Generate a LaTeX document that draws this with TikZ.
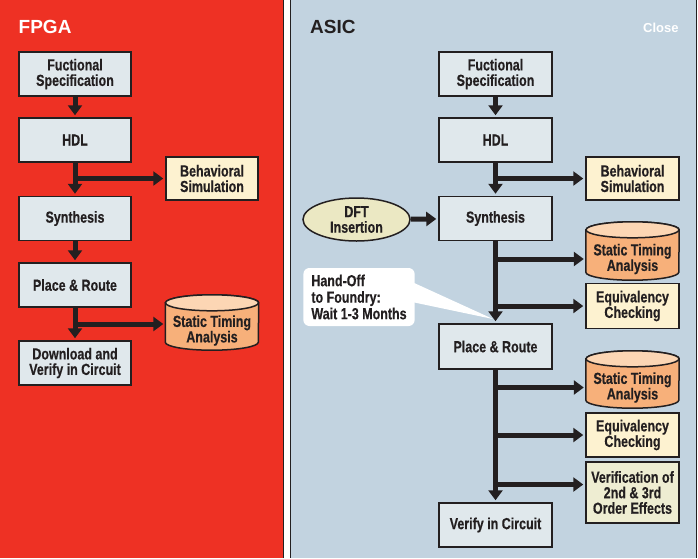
\documentclass[tikz,border=0pt]{standalone}
\usepackage{fontspec}
\setmainfont{Liberation Sans}[FakeStretch=0.78, FakeBold=0.4]
\newfontfamily\titlefont{Liberation Sans}
\usepackage{tikz}
\usepackage{xcolor}
\definecolor{fpgared}{RGB}{238,49,36}
\definecolor{asicblue}{RGB}{194,211,224}
\definecolor{ink}{RGB}{35,31,32}
\definecolor{boxgray}{RGB}{224,232,236}
\definecolor{cream}{RGB}{253,242,208}
\definecolor{drumorange}{RGB}{247,176,122}
\definecolor{drumpeach}{RGB}{252,214,180}
\definecolor{dftolive}{RGB}{235,232,195}
\definecolor{verolive}{RGB}{238,237,210}
\usetikzlibrary{shapes.geometric}
\usetikzlibrary{arrows.meta}
\usetikzlibrary{backgrounds}

% cylinder drawn behind a text node
\newcommand{\drum}[1]{%
  \filldraw[drumside] ([yshift=8pt]#1.north west) -- ([yshift=8pt]#1.south west)
    arc[start angle=180, end angle=360, x radius=46.5pt, y radius=8pt]
    -- ([yshift=8pt]#1.north east)
    arc[start angle=0, end angle=180, x radius=46.5pt, y radius=8pt] -- cycle;
  \filldraw[drumtop] ([yshift=8pt]#1.north) ellipse [x radius=46.5pt, y radius=8pt];
}

\begin{document}
\begin{tikzpicture}[x=1pt, y=1pt]
\tikzstyle{stage} = [
  shape=rectangle,
  draw = ink,
  line width = 1.5pt,
  fill = boxgray,
  minimum width = 113pt,
  minimum height = 44pt,
  inner sep = 1pt,
  align = center,
  text = ink,
  font = \bfseries\fontsize{16}{15.5}\selectfont
]
\tikzstyle{check} = [
  stage,
  fill = cream,
  minimum width = 93pt,
  minimum height = 44pt
]
\tikzstyle{drumtext} = [
  shape=rectangle,
  minimum width = 93pt,
  inner sep = 1pt,
  align = center,
  text = ink,
  font = \bfseries\fontsize{16}{15.5}\selectfont
]
\tikzstyle{drumside} = [fill = drumorange, draw = ink, line width = 1.5pt]
\tikzstyle{drumtop} = [fill = drumpeach, draw = ink, line width = 1.5pt]
\tikzstyle{flow} = [
  draw = ink,
  line width = 5pt,
  shorten > = 2pt,
  -{Triangle[length=10pt, width=14pt]}
]
\tikzstyle{title} = [anchor=base west, inner sep=0pt]

\useasboundingbox (0,0) rectangle (698,-558);

\begin{scope}[on background layer]
\fill[white] (0,0) rectangle (698,-558);
\fill[fpgared] (0,0) rectangle (283,-558);
\fill[asicblue] (290,0) rectangle (696,-558);
\draw[ink, line width=1.5pt] (283.5,0) -- (283.5,-558);
\draw[ink, line width=1.5pt] (290.5,0) -- (290.5,-558);
\draw[ink, line width=1.5pt] (696.5,0) -- (696.5,-558);
\end{scope}

% titles
\node[title, text=white] (fpgatitle) at (18.5,-33) {\titlefont\bfseries\fontsize{19}{19}\selectfont FPGA};
\node[title, text=ink] (asictitle) at (310,-33) {\titlefont\bfseries\fontsize{19}{19}\selectfont ASIC};
\node[title, text=white] (close) at (643,-32) {\titlefont\bfseries\fontsize{13}{13}\selectfont Close};

% FPGA flow
\node[stage, minimum width=112pt] (fspec) at (75,-74) {Fuctional\\Specification};
\node[stage, minimum width=112pt] (fhdl) at (75,-140) {HDL};
\node[stage, minimum width=112pt] (fsyn) at (75,-218.5) {Synthesis};
\node[stage, minimum width=112pt] (fpr) at (75,-285) {Place \& Route};
\node[stage, minimum width=112pt] (fdl) at (75,-363) {Download and\\Verify in Circuit};
\node[check, minimum width=92pt, minimum height=43pt] (fbeh) at (212,-178.5) {Behavioral\\Simulation};
\node[drumtext, minimum height=39pt] (fsta) at (212,-330.5) {Static Timing\\Analysis};
\coordinate (fstain) at ([yshift=6.5pt]fsta.west);

% ASIC flow
\node[stage] (aspec) at (495.5,-74) {Fuctional\\Specification};
\node[stage] (ahdl) at (495.5,-140) {HDL};
\node[stage] (asyn) at (495.5,-218.5) {Synthesis};
\node[stage, minimum height=45pt] (apr) at (495.5,-346.5) {Place \& Route};
\node[stage] (aver) at (495.5,-525) {Verify in Circuit};
\node[check, minimum height=43pt] (abeh) at (632.5,-178.5) {Behavioral\\Simulation};
\node[stage, shape=ellipse, fill=dftolive, minimum width=107pt, minimum height=43pt, inner sep=0pt] (dft) at (356.5,-219.5) {DFT\\Insertion};
\node[drumtext, minimum height=42pt] (asta1) at (632.5,-259) {Static Timing\\Analysis};
\node[check, minimum height=45pt] (aeq1) at (632.5,-306) {Equivalency\\Checking};
\node[drumtext, minimum height=41pt] (asta2) at (632.5,-387.5) {Static Timing\\Analysis};
\node[check] (aeq2) at (632.5,-435) {Equivalency\\Checking};
\node[check, fill=verolive, minimum height=61pt] (aord) at (632.5,-492.5) {Verification of\\2nd \& 3rd\\Order Effects};
\coordinate (aordin) at ([yshift=8pt]aord.west);

% hand-off note
\coordinate (handtip) at (493,-319);
\fill[white] (412,-282) -- (handtip) -- (412,-302) -- cycle;
\node[fill=white, rounded corners=6pt, align=left, inner xsep=8pt, minimum height=58pt,
  text=ink, font=\bfseries\fontsize{16}{16.5}\selectfont] (hand) at (359,-297)
  {Hand-Off\\to Foundry:\\Wait 1-3 Months};

\begin{scope}[on background layer]
\drum{fsta}
\drum{asta1}
\drum{asta2}
\end{scope}

% connectors
\draw[flow] (fspec) -- (fhdl);
\draw[flow] (fhdl) -- (fsyn);
\draw[flow] (fsyn) -- (fpr);
\draw[flow] (fpr) -- (fdl);
\draw[flow] (fhdl.south |- fbeh.west) -- (fbeh.west);
\draw[flow] (fpr.south |- fstain) -- (fstain);

\draw[flow] (aspec) -- (ahdl);
\draw[flow] (ahdl) -- (asyn);
\draw[flow] (asyn) -- (apr);
\draw[flow] (apr) -- (aver);
\draw[flow] (dft) -- (asyn);
\draw[flow] (ahdl.south |- abeh.west) -- (abeh.west);
\draw[flow] (asyn.south |- asta1.west) -- (asta1.west);
\draw[flow] (asyn.south |- aeq1.west) -- (aeq1.west);
\draw[flow] (apr.south |- asta2.west) -- (asta2.west);
\draw[flow] (apr.south |- aeq2.west) -- (aeq2.west);
\draw[flow] (apr.south |- aordin) -- (aordin);

\end{tikzpicture}
\end{document}
